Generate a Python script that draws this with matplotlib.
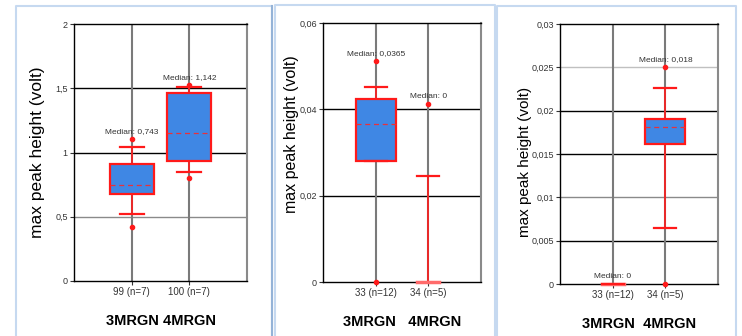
import matplotlib
matplotlib.use("Agg")
import matplotlib.pyplot as plt
from matplotlib.lines import Line2D

# ---- data ----
panel1_labels = ["99 (n=7)", "100 (n=7)"]
panel1_q1 = [0.677, 0.934]
panel1_med = [0.747, 1.152]
panel1_q3 = [0.910, 1.463]
panel1_whislo = [0.521, 0.848]
panel1_whishi = [1.043, 1.510]
panel1_fliers = [[0.42, 1.105], [0.80, 1.525]]
panel1_median_text = ["Median: 0,743", "Median: 1,142"]
panel1_yticks = [0, 0.5, 1, 1.5, 2]
panel1_yticklabels = ["0", "0,5", "1", "1,5", "2"]

panel2_labels = ["33 (n=12)", "34 (n=5)"]
panel2_q1 = [0.0280, 0.0]
panel2_med = [0.0366, 0.0]
panel2_q3 = [0.0424, 0.0]
panel2_whislo = [0.0280, 0.0]
panel2_whishi = [0.0452, 0.0246]
panel2_fliers = [[0.0, 0.0512], [0.0412]]
panel2_median_text = ["Median: 0,0365", "Median: 0"]
panel2_yticks = [0, 0.02, 0.04, 0.06]
panel2_yticklabels = ["0", "0,02", "0,04", "0,06"]

panel3_labels = ["33 (n=12)", "34 (n=5)"]
panel3_q1 = [0.0, 0.01615]
panel3_med = [0.0, 0.0181]
panel3_q3 = [0.0, 0.01904]
panel3_whislo = [0.0, 0.00646]
panel3_whishi = [0.0, 0.0226]
panel3_fliers = [[], [0.0, 0.025]]
panel3_median_text = ["Median: 0", "Median: 0,018"]
panel3_yticks = [0, 0.005, 0.01, 0.015, 0.02, 0.025, 0.03]
panel3_yticklabels = ["0", "0,005", "0,01", "0,015", "0,02", "0,025", "0,03"]

group_title = "3MRGN 4MRGN"
ylabel = "max peak height (volt)"

SANS = ["Liberation Sans", "DejaVu Sans"]
BOX_BLUE = "#3f87e4"
RED = "#ff1a1a"
W, H = 742, 336

fig = plt.figure(figsize=(W / 100, H / 100), dpi=100)

# overlay in pixel space for the panel frames
bg = fig.add_axes([0, 0, 1, 1], zorder=-1)
bg.set_xlim(0, W)
bg.set_ylim(H, 0)
bg.axis("off")
frame_col = "#c6d9f0"
for x0, x1, top in [(16, 272, 6), (275, 495, 5), (497, 736, 6)]:
    bg.add_line(Line2D([x0, x0, x1, x1], [H + 5, top, top, H + 5], color=frame_col, lw=1.5))
bg.add_line(Line2D([272, 272], [6, H + 5], color="#95b3d7", lw=1.5))


def px_axes(x0, x1, top, bottom):
    return fig.add_axes([x0 / W, (H - bottom) / H, (x1 - x0) / W, (bottom - top) / H])


def draw_panel(ax, labels, q1, med, q3, whislo, whishi, fliers, med_text,
               yticks, yticklabels, grid_cols, ylabel_size, ylabel_xy, xlabel_gap):
    ymax = yticks[-1]
    ax.set_xlim(0, 3)
    ax.set_ylim(0, ymax)

    # grid
    for y, c in zip(yticks[1:-1], grid_cols):
        ax.axhline(y, color=c, lw=1.0, zorder=0)
    for i in range(len(labels)):
        ax.axvline(i + 1, color="#7a7a7a", lw=1.5, zorder=0)

    for i in range(len(labels)):
        stats = [{"q1": q1[i], "med": med[i], "q3": q3[i], "whislo": whislo[i],
                  "whishi": whishi[i], "fliers": fliers[i]}]
        flat = q1[i] == q3[i]
        parts = ax.bxp(stats, positions=[i + 1], widths=0.76, capwidths=0.42,
                       showbox=not flat, patch_artist=True,
                       boxprops=dict(facecolor=BOX_BLUE, edgecolor=RED, lw=1.6),
                       whiskerprops=dict(color=RED, lw=1.2),
                       capprops=dict(color=RED, lw=1.6),
                       medianprops=dict(color="#e8303a", lw=0.9, ls=(0, (4, 3))) if not flat
                       else dict(lw=0),
                       flierprops=dict(marker="o", markersize=3, markerfacecolor=RED,
                                       markeredgecolor=RED, ls="none"),
                       zorder=3)
        for art in parts["caps"] + parts["fliers"]:
            art.set_clip_on(False)
            art.set_zorder(4)
        if flat:
            # degenerate box: lower cap sits on the axis as a pale thick bar
            parts["caps"][0].set_color("#ff6b6b")
            parts["caps"][0].set_linewidth(2.5)
        top = max([whishi[i]] + list(fliers[i]))
        ax.annotate(med_text[i], (i + 1, top), xytext=(0, 3), textcoords="offset points",
                    ha="center", va="bottom", fontsize=6, color="#333333", family=SANS,
                    zorder=5)

    ax.set_yticks(yticks)
    ax.set_yticklabels(yticklabels, family=SANS, fontsize=6.5, color="#333333")
    ax.set_xticks(range(1, len(labels) + 1))
    ax.set_xticklabels(labels, family=SANS, fontsize=7, color="#333333")
    ax.tick_params(length=3, width=0.8, color="#333333", pad=1.5)
    for s in ["left", "bottom", "top"]:
        ax.spines[s].set_color("black")
        ax.spines[s].set_linewidth(1.0)
    ax.spines["right"].set_color("#8a8a8a")
    ax.spines["right"].set_linewidth(1.5)

    ax.set_ylabel(ylabel, family=SANS, fontsize=ylabel_size)
    ax.yaxis.set_label_coords(*ylabel_xy)
    ax.set_xlabel(group_title.replace(" ", " " * xlabel_gap), family=SANS, fontsize=10.5,
                  fontweight="bold", labelpad=12)


""" Panel 1 """
ax1 = px_axes(74, 247, 24, 281)
draw_panel(ax1, panel1_labels, panel1_q1, panel1_med, panel1_q3, panel1_whislo,
           panel1_whishi, panel1_fliers, panel1_median_text, panel1_yticks,
           panel1_yticklabels, ["#8a8a8a", "black", "black"], 12.5, (-0.165, 0.5), 1)

""" Panel 2 """
ax2 = px_axes(323, 481, 23, 282)
draw_panel(ax2, panel2_labels, panel2_q1, panel2_med, panel2_q3, panel2_whislo,
           panel2_whishi, panel2_fliers, panel2_median_text, panel2_yticks,
           panel2_yticklabels, ["black", "black"], 11.5, (-0.15, 0.57), 3)

""" Panel 3 """
ax3 = px_axes(560, 718, 24, 284)
draw_panel(ax3, panel3_labels, panel3_q1, panel3_med, panel3_q3, panel3_whislo,
           panel3_whishi, panel3_fliers, panel3_median_text, panel3_yticks,
           panel3_yticklabels, ["black", "#8a8a8a", "black", "black", "#c0c0c0"], 11,
           (-0.175, 0.47), 2)

fig.savefig("out.png", dpi=100)
